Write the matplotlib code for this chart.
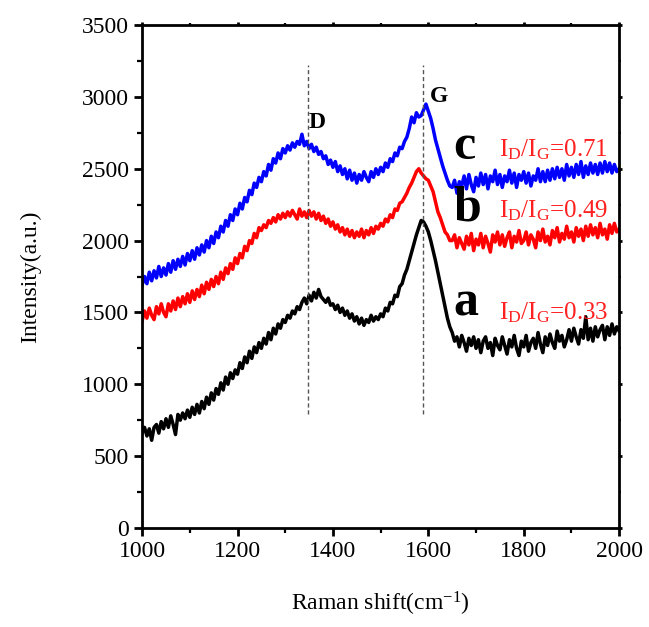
import matplotlib
matplotlib.use("Agg")
import matplotlib.pyplot as plt
from matplotlib.ticker import MultipleLocator

plt.rcParams['font.family'] = ['Liberation Serif', 'DejaVu Serif']
plt.rcParams['mathtext.fontset'] = 'custom'
plt.rcParams['mathtext.rm'] = 'Liberation Serif'
plt.rcParams['mathtext.it'] = 'Liberation Serif:italic'
plt.rcParams['mathtext.bf'] = 'Liberation Serif:bold'

shift = list(range(1000, 2001, 5))

intensity_a = [
    660, 700, 640, 690, 610, 700, 720, 660, 740, 690,
    760, 700, 780, 720, 650, 790, 750, 800, 760, 820,
    770, 840, 790, 860, 800, 880, 830, 910, 860, 940,
    890, 970, 930, 1010, 960, 1050, 1000, 1080, 1040, 1100,
    1070, 1150, 1110, 1190, 1150, 1230, 1180, 1260, 1220, 1290,
    1250, 1320, 1280, 1360, 1310, 1390, 1350, 1420, 1390, 1450,
    1430, 1480, 1460, 1510, 1490, 1540, 1520, 1570, 1600, 1560,
    1620, 1580, 1640, 1600, 1660, 1610, 1590, 1570, 1600, 1550,
    1560, 1520, 1550, 1500, 1530, 1480, 1510, 1460, 1490, 1440,
    1470, 1420, 1460, 1410, 1450, 1430, 1480, 1440, 1470, 1450,
    1490, 1470, 1530, 1510, 1570, 1560, 1620, 1610, 1680, 1700,
    1760, 1800, 1860, 1920, 1980, 2040, 2090, 2140, 2130, 2100,
    2060, 2000, 1930, 1860, 1780, 1700, 1620, 1540, 1460, 1400,
    1360, 1300, 1330, 1260, 1340, 1290, 1230, 1320, 1270, 1330,
    1250, 1310, 1220, 1300, 1330, 1250, 1290, 1200, 1320, 1270,
    1240, 1330, 1270, 1210, 1310, 1260, 1340, 1250, 1200, 1300,
    1260, 1340, 1230, 1290, 1320, 1250, 1360, 1280, 1220, 1330,
    1270, 1350, 1290, 1250, 1370, 1300, 1340, 1260, 1310, 1380,
    1300, 1390, 1330, 1280, 1380, 1320, 1470, 1310, 1390, 1300,
    1400, 1330, 1380, 1410, 1310, 1400, 1340, 1420, 1350, 1400,
    1370]

intensity_b = [
    1440, 1510, 1460, 1530, 1480, 1450, 1540, 1490, 1560, 1500,
    1470, 1560, 1510, 1580, 1520, 1600, 1540, 1610, 1560, 1630,
    1570, 1650, 1590, 1660, 1610, 1690, 1630, 1710, 1660, 1730,
    1680, 1750, 1700, 1780, 1730, 1810, 1770, 1840, 1800, 1880,
    1840, 1910, 1880, 1960, 1930, 2000, 1980, 2050, 2020, 2090,
    2070, 2110, 2090, 2140, 2120, 2160, 2130, 2180, 2150, 2190,
    2160, 2200, 2170, 2210, 2180, 2150, 2220, 2170, 2200, 2160,
    2210, 2170, 2200, 2150, 2190, 2140, 2170, 2120, 2150, 2100,
    2130, 2080, 2110, 2060, 2090, 2040, 2080, 2030, 2070, 2020,
    2060, 2030, 2080, 2020, 2070, 2040, 2090, 2050, 2100, 2080,
    2120, 2100, 2150, 2130, 2180, 2160, 2220, 2210, 2260, 2270,
    2300, 2330, 2370, 2400, 2440, 2480, 2500, 2470, 2450, 2430,
    2420, 2380, 2340, 2270, 2200, 2160, 2110, 2060, 2040, 2000,
    2000, 2040, 1950, 2020, 1980, 1940, 2030, 1970, 2050, 1930,
    2010, 1970, 2050, 1950, 2030, 1980, 1920, 2040, 1990, 2060,
    1970, 2040, 1960, 2020, 2060, 1950, 2030, 1990, 2070, 1980,
    2000, 2060, 1970, 2040, 2010, 1950, 2060, 2000, 2080, 1990,
    2030, 1970, 2070, 2020, 2090, 1990, 2050, 2010, 2100, 2020,
    2060, 1990, 2090, 2030, 2080, 2000, 2100, 2030, 2110, 2040,
    2090, 2020, 2120, 2040, 2080, 2010, 2110, 2050, 2120, 2060,
    2080]

intensity_c = [
    1690, 1750, 1700, 1780, 1720, 1790, 1740, 1820, 1750, 1810,
    1760, 1840, 1780, 1860, 1800, 1870, 1820, 1890, 1830, 1910,
    1860, 1930, 1870, 1950, 1900, 1970, 1920, 2000, 1950, 2030,
    1980, 2060, 2020, 2100, 2060, 2140, 2100, 2180, 2140, 2220,
    2180, 2260, 2220, 2300, 2270, 2350, 2320, 2400, 2370, 2440,
    2410, 2480, 2450, 2530, 2490, 2570, 2540, 2610, 2570, 2640,
    2610, 2660, 2630, 2680, 2650, 2690, 2670, 2740, 2660, 2690,
    2640, 2670, 2620, 2650, 2600, 2620, 2570, 2590, 2530, 2560,
    2510, 2550, 2480, 2520, 2460, 2500, 2430, 2490, 2420, 2470,
    2400, 2460, 2420, 2480, 2440, 2410, 2480, 2440, 2500, 2460,
    2510, 2480, 2540, 2510, 2570, 2550, 2610, 2590, 2650, 2640,
    2690, 2720, 2780, 2860, 2820, 2890, 2860, 2870, 2910, 2950,
    2900, 2850, 2780, 2700, 2640, 2580, 2520, 2470, 2420, 2380,
    2370, 2420, 2330, 2410, 2380, 2450, 2360, 2460, 2390, 2340,
    2440, 2380, 2470, 2390, 2460, 2360, 2450, 2410, 2490, 2390,
    2460, 2370, 2450, 2410, 2490, 2400, 2470, 2370, 2460, 2420,
    2480, 2400, 2470, 2380, 2450, 2420, 2500, 2410, 2480, 2410,
    2490, 2420, 2500, 2430, 2510, 2440, 2500, 2420, 2530, 2450,
    2510, 2440, 2530, 2460, 2550, 2440, 2520, 2460, 2540, 2470,
    2530, 2460, 2540, 2470, 2550, 2480, 2540, 2470, 2530, 2480,
    2500]

peak_positions = [1348, 1589]
peak_names = ['D', 'G']
sample_names = ['a', 'b', 'c']
ratios = ['0.33', '0.49', '0.71']

fig = plt.figure(figsize=(6.49, 6.27), dpi=100)
ax = fig.add_axes([0.219, 0.158, 0.735, 0.802])

ax.plot(shift, intensity_a, color='black', lw=2.5)
ax.plot(shift, intensity_b, color='#ff0000', lw=2.5)
ax.plot(shift, intensity_c, color='#0000ff', lw=2.5)

for xp in peak_positions:
    ax.plot([xp, xp], [790, 3220], color='#555555', lw=1.0, ls=(0, (3, 2)))

ax.text(1348, 2750, peak_names[0], fontsize=17, fontweight='bold', ha='left', va='bottom')
ax.text(1603, 2930, peak_names[1], fontsize=17, fontweight='bold', ha='left', va='bottom')

ax.text(1652, 1560, sample_names[0], fontsize=36, fontweight='bold', ha='left', va='center')
ax.text(1652, 2220, sample_names[1], fontsize=36, fontweight='bold', ha='left', va='center')
ax.text(1652, 2650, sample_names[2], fontsize=36, fontweight='bold', ha='left', va='center')

ypos = [1500, 2210, 2630]
for r, yv in zip(ratios, ypos):
    ax.text(1748, yv, r'I$_{\mathrm{D}}$/I$_{\mathrm{G}}$=' + r, color='#ff2020',
            fontsize=18, ha='left', va='center')

ax.set_xlim(1000, 2000)
ax.set_ylim(0, 3500)
ax.xaxis.set_major_locator(MultipleLocator(200))
ax.xaxis.set_minor_locator(MultipleLocator(100))
ax.yaxis.set_major_locator(MultipleLocator(500))
ax.yaxis.set_minor_locator(MultipleLocator(250))

for s in ax.spines.values():
    s.set_linewidth(2.0)

ax.tick_params(which='major', direction='out', length=6, width=2.0, labelsize=17,
               top=True, right=True, labeltop=False, labelright=False)
ax.tick_params(which='minor', direction='out', length=3.5, width=1.6,
               top=True, right=True)
for t in ax.xaxis.get_ticklines(minor=False)[1::2] + ax.yaxis.get_ticklines(minor=False)[1::2]:
    t.set_markersize(2)
for t in ax.xaxis.get_ticklines(minor=True)[1::2] + ax.yaxis.get_ticklines(minor=True)[1::2]:
    t.set_markersize(1.5)

ax.set_xlabel(r'Raman shift(cm$^{\mathrm{-1}}$)', fontsize=17, labelpad=20)
ax.set_ylabel('Intensity(a.u.)', fontsize=17, labelpad=29)

fig.savefig('out.png', dpi=100)
